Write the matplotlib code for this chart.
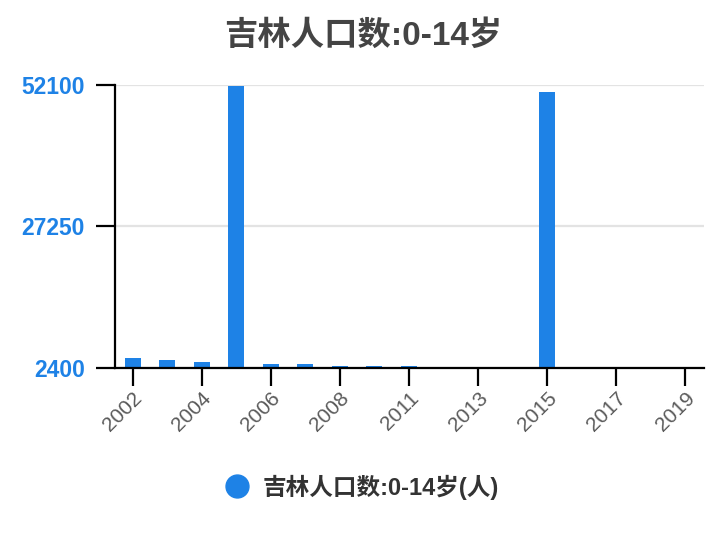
import numpy as np
import matplotlib
matplotlib.use("Agg")
import matplotlib.pyplot as plt
from matplotlib.lines import Line2D

plt.rcParams['font.family'] = ['Liberation Sans', 'Noto Sans CJK SC', 'DejaVu Sans']

# data
years = ['2002', '2003', '2004', '2005', '2006', '2007', '2008', '2010', '2011',
         '2012', '2013', '2014', '2015', '2016', '2017', '2018', '2019']
values = [4210, 3860, 3500, 51870, 3160, 3150, 2800, 2790, 2780,
          np.nan, np.nan, np.nan, 50870, np.nan, np.nan, np.nan, np.nan]
yticks = [2400, 27250, 52100]
title = "吉林人口数:0-14岁"
series_name = "吉林人口数:0-14岁(人)"

blue = "#1e82e6"

fig = plt.figure(figsize=(7.24, 5.4), dpi=100)
ax = fig.add_axes([0.1584, 0.3185, 0.814, 0.5246])

x = np.arange(len(years))
ax.bar(x, values, width=0.46, color=blue, zorder=3)

ax.set_ylim(yticks[0], yticks[-1])
ax.set_xlim(-0.52, len(years) - 1 + 0.55)
ax.set_yticks(yticks)
ax.set_yticklabels([str(v) for v in yticks])
ax.grid(axis='y', color='#e3e3e3', linewidth=1.6, zorder=0)

ax.set_xticks(x[::2])
ax.set_xticklabels(years[::2], rotation=45, ha='right', va='top',
                   rotation_mode='anchor')

for s in ['top', 'right']:
    ax.spines[s].set_visible(False)
for s in ['left', 'bottom']:
    ax.spines[s].set_linewidth(1.6)
    ax.spines[s].set_zorder(4)

ax.tick_params(axis='y', length=13.5, width=1.6, pad=8,
               labelsize=16.5, labelcolor=blue)
ax.tick_params(axis='x', length=13, width=1.6, pad=2,
               labelsize=15, labelcolor='#5a5a5a')
for lab in ax.get_yticklabels():
    lab.set_fontweight('bold')

fig.text(0.502, 1 - 36 / 540, title, ha='center', va='center',
         fontsize=24, fontweight='bold', color='#444444')

handle = Line2D([], [], marker='o', linestyle='none', markersize=16.5,
                markerfacecolor=blue, markeredgecolor=blue)
leg = fig.legend([handle], [series_name], loc='center',
                 bbox_to_anchor=(0.492, 1 - 487 / 540), frameon=False,
                 handletextpad=0.05, prop={'size': 17, 'weight': 'bold'})
for t in leg.get_texts():
    t.set_color('#333333')

fig.savefig("out.png", dpi=100)
